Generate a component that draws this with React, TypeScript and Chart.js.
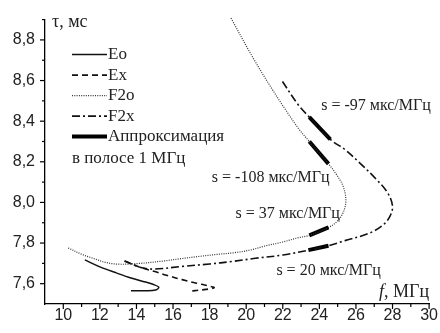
import React, { useEffect, useRef } from "react";
import { Chart, registerables } from "chart.js";

Chart.register(...registerables);

// ---- data (f, MHz ; tau, ms) ----
const eoFreq = [11.18, 12.0, 12.9, 13.7, 14.5, 14.9, 15.22, 15.05, 14.5, 13.7];
const eoTau = [7.717, 7.683, 7.653, 7.628, 7.608, 7.597, 7.583, 7.569, 7.565, 7.565];

const exFreq = [13.35, 14.3, 15.0, 15.7, 16.5, 17.3, 17.9, 18.25, 17.8, 17.2, 16.85];
const exTau = [7.712, 7.678, 7.66, 7.64, 7.62, 7.602, 7.59, 7.58, 7.572, 7.566, 7.562];

const f2oFreq = [10.27, 11.0, 11.63, 12.3, 13.0, 14.2, 15.5, 16.5, 17.5, 18.5, 19.3, 20.2, 21.0, 22.0, 22.8, 23.45, 24.5, 24.95, 25.3, 25.45, 25.3, 24.95, 24.5, 23.45, 22.85, 22.2, 21.4, 20.32, 19.14];
const f2oTau = [7.776, 7.745, 7.725, 7.705, 7.696, 7.7, 7.712, 7.724, 7.735, 7.745, 7.752, 7.765, 7.785, 7.805, 7.825, 7.838, 7.877, 7.905, 7.95, 8.01, 8.08, 8.135, 8.19, 8.3, 8.365, 8.45, 8.56, 8.72, 8.912];

const f2xFreq = [13.35, 14.3, 15.0, 16.5, 18.0, 19.2, 20.5, 22.0, 23.4, 24.5, 25.4, 26.3, 27.0, 27.5, 27.85, 28.0, 27.75, 27.1, 26.2, 25.4, 24.6, 23.45, 22.85, 21.95];
const f2xTau = [7.712, 7.678, 7.672, 7.685, 7.697, 7.709, 7.725, 7.741, 7.765, 7.787, 7.812, 7.835, 7.86, 7.89, 7.93, 7.98, 8.045, 8.115, 8.195, 8.26, 8.31, 8.42, 8.48, 8.6];

// 1 MHz band approximations
const f2oUpperApproxFreq = [23.45, 24.5];
const f2oUpperApproxTau = [8.3, 8.19];
const f2xUpperApproxFreq = [23.45, 24.6];
const f2xUpperApproxTau = [8.42, 8.31];
const f2oLowerApproxFreq = [23.45, 24.5];
const f2oLowerApproxTau = [7.838, 7.877];
const f2xLowerApproxFreq = [23.4, 24.5];
const f2xLowerApproxTau = [7.765, 7.787];

// slope labels (text, anchor f, anchor tau)
const slopeTexts = ["s = -97 мкс/МГц", "s = -108 мкс/МГц", "s = 37 мкс/МГц", "s = 20 мкс/МГц"];
const slopeFreq = [24.1, 18.12, 19.42, 21.65];
const slopeTau = [8.475, 8.123, 7.946, 7.662];

const xTickValues = [10, 12, 14, 16, 18, 20, 22, 24, 26, 28, 30];
const xMinorValues = [11, 13, 15, 17, 19, 21, 23, 25, 27, 29];
const yTickValues = [7.6, 7.8, 8.0, 8.2, 8.4, 8.6, 8.8];
const yMinorValues = [7.7, 7.9, 8.1, 8.3, 8.5, 8.7, 8.9];

const legendLabels = ["Eo", "Ex", "F2o", "F2x", "Аппроксимация"];
const legendSecondLine = "в полосе 1 МГц";

const zip = (xs: number[], ys: number[]) => xs.map((x, i) => ({ x, y: ys[i] }));

const SERIF = "'Liberation Serif', 'Times New Roman', serif";
const SANS = "'Liberation Sans', Arial, sans-serif";

const decorPlugin = {
  id: "decor",
  afterDraw(chart: any) {
    const ctx = chart.ctx as CanvasRenderingContext2D;
    const xs = chart.scales.x;
    const ys = chart.scales.y;
    const { left, right, top, bottom } = chart.chartArea;
    ctx.save();
    ctx.strokeStyle = "#000";
    ctx.lineWidth = 1.2;
    ctx.setLineDash([]);
    const tick = (x1: number, y1: number, x2: number, y2: number) => {
      ctx.beginPath();
      ctx.moveTo(x1, y1);
      ctx.lineTo(x2, y2);
      ctx.stroke();
    };
    xTickValues.forEach((v) => {
      const p = xs.getPixelForValue(v);
      tick(p, bottom, p, bottom + 5);
    });
    xMinorValues.forEach((v) => {
      const p = xs.getPixelForValue(v);
      tick(p, bottom, p, bottom + 3);
    });
    yTickValues.forEach((v) => {
      const p = ys.getPixelForValue(v);
      tick(left, p, left - 5, p);
    });
    yMinorValues.forEach((v) => {
      const p = ys.getPixelForValue(v);
      tick(left, p, left - 3, p);
    });

    // axis titles
    ctx.fillStyle = "#222";
    ctx.textBaseline = "middle";
    ctx.font = `18px ${SERIF}`;
    ctx.textAlign = "left";
    ctx.fillText("τ, мс", left + 7, top + 3);
    ctx.textAlign = "right";
    const unit = ", МГц";
    const uw = ctx.measureText(unit).width;
    ctx.fillText(unit, right, bottom - 12);
    ctx.font = `italic 18px ${SERIF}`;
    ctx.fillText("f", right - uw, bottom - 12);

    // legend
    ctx.textAlign = "left";
    ctx.font = `17px ${SERIF}`;
    const lx0 = left + 27;
    const lx1 = left + 62;
    const legendY0 = top + 35;
    const step = 20.5;
    legendLabels.forEach((label, i) => {
      const ds = chart.data.datasets.find((d: any) => d.label === label);
      const y = legendY0 + i * step;
      ctx.save();
      ctx.strokeStyle = ds.borderColor;
      ctx.lineWidth = ds.borderWidth;
      ctx.setLineDash(ds.borderDash || []);
      ctx.beginPath();
      ctx.moveTo(lx0, y);
      ctx.lineTo(lx1, y);
      ctx.stroke();
      ctx.restore();
      ctx.fillText(label, lx1 + 1, y);
    });
    ctx.fillText(legendSecondLine, lx0, legendY0 + legendLabels.length * step + 1);

    // slope annotations
    ctx.font = `16px ${SERIF}`;
    slopeTexts.forEach((t, i) => {
      ctx.fillText(t, xs.getPixelForValue(slopeFreq[i]), ys.getPixelForValue(slopeTau[i]));
    });
    ctx.restore();
  },
};

export default function App() {
  const ref = useRef<HTMLCanvasElement | null>(null);
  useEffect(() => {
    if (!ref.current) return;
    const common = { pointRadius: 0, tension: 0.35, fill: false, clip: false as any };
    const approx = (f: number[], t: number[], label: string) => ({
      ...common,
      label,
      data: zip(f, t),
      borderColor: "#000",
      borderWidth: 4,
      borderCapStyle: "butt",
      tension: 0,
    });
    const chart = new Chart(ref.current, {
      type: "line",
      data: {
        datasets: [
          { ...common, label: "Eo", data: zip(eoFreq, eoTau), borderColor: "#111", borderWidth: 1.5 },
          { ...common, label: "Ex", data: zip(exFreq, exTau), borderColor: "#111", borderWidth: 1.6, borderDash: [6, 4] },
          { ...common, label: "F2o", data: zip(f2oFreq, f2oTau), borderColor: "#333", borderWidth: 1.2, borderDash: [1, 1.3] },
          { ...common, label: "F2x", data: zip(f2xFreq, f2xTau), borderColor: "#111", borderWidth: 1.6, borderDash: [8, 3, 2, 3] },
          approx(f2oUpperApproxFreq, f2oUpperApproxTau, "Аппроксимация"),
          approx(f2xUpperApproxFreq, f2xUpperApproxTau, "approx2"),
          approx(f2oLowerApproxFreq, f2oLowerApproxTau, "approx3"),
          approx(f2xLowerApproxFreq, f2xLowerApproxTau, "approx4"),
        ] as any,
      },
      options: {
        animation: false,
        responsive: false,
        layout: { padding: { top: 12.5, right: 10, left: 0, bottom: 0 } },
        plugins: { legend: { display: false }, tooltip: { enabled: false } },
        scales: {
          x: {
            type: "linear",
            min: 9,
            max: 30,
            afterFit: (s: any) => {
              s.height = 29;
            },
            afterBuildTicks: (s: any) => {
              s.ticks = xTickValues.map((v) => ({ value: v }));
            },
            grid: { display: false, drawTicks: false },
            border: { display: true, color: "#000", width: 1.3 },
            ticks: {
              font: { family: SANS, size: 16 },
              color: "#222",
              padding: 2,
              maxRotation: 0,
              autoSkip: false,
              callback: (v: any) => String(v),
            },
          },
          y: {
            type: "linear",
            min: 7.5,
            max: 8.9,
            afterFit: (s: any) => {
              s.width = 45;
            },
            afterBuildTicks: (s: any) => {
              s.ticks = yTickValues.map((v) => ({ value: v }));
            },
            grid: { display: false, drawTicks: false },
            border: { display: true, color: "#000", width: 1.3 },
            ticks: {
              font: { family: SANS, size: 16 },
              color: "#222",
              padding: 10,
              autoSkip: false,
              callback: (v: any) => Number(v).toFixed(1).replace(".", ","),
            },
          },
        },
      } as any,
      plugins: [decorPlugin],
    });
    return () => chart.destroy();
  }, []);
  return (
    <div style={{ position: "absolute", left: 0, top: 0, width: 440, height: 333, background: "#fff" }}>
      <canvas ref={ref} width={440} height={333} style={{ display: "block" }} />
    </div>
  );
}
